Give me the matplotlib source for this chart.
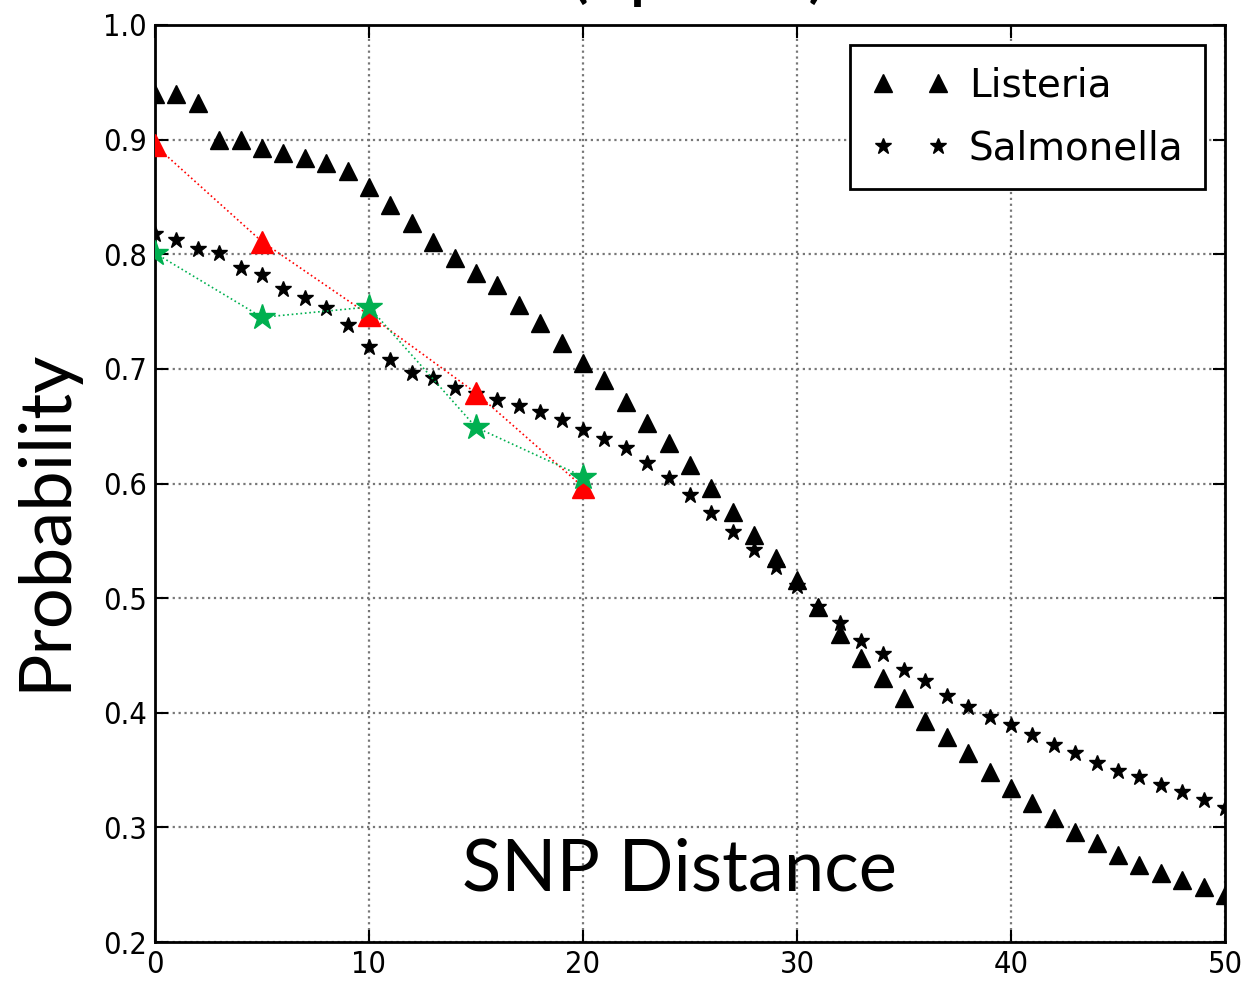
import numpy as np
import matplotlib
matplotlib.use("Agg")
import matplotlib.pyplot as plt

# ---- data ----
snp = np.arange(0, 51)

listeria = [0.940, 0.940, 0.932, 0.900, 0.900, 0.893, 0.888, 0.884, 0.880, 0.873,
            0.859, 0.843, 0.827, 0.811, 0.797, 0.784, 0.773, 0.756, 0.740, 0.723,
            0.705, 0.690, 0.671, 0.653, 0.635, 0.616, 0.596, 0.575, 0.555, 0.535,
            0.516, 0.492, 0.469, 0.448, 0.430, 0.413, 0.393, 0.379, 0.365, 0.348,
            0.334, 0.321, 0.308, 0.296, 0.286, 0.276, 0.267, 0.260, 0.254, 0.248,
            0.241]

salmonella = [0.818, 0.812, 0.805, 0.801, 0.788, 0.782, 0.770, 0.762, 0.753, 0.738,
              0.719, 0.708, 0.696, 0.692, 0.683, 0.678, 0.673, 0.668, 0.662, 0.655,
              0.647, 0.639, 0.631, 0.618, 0.605, 0.590, 0.574, 0.558, 0.542, 0.527,
              0.511, 0.492, 0.478, 0.463, 0.451, 0.437, 0.428, 0.415, 0.405, 0.396,
              0.389, 0.381, 0.372, 0.365, 0.356, 0.349, 0.344, 0.337, 0.331, 0.324,
              0.317]

# overlaid observed points (every 5 SNPs)
obs_x = [0, 5, 10, 15, 20]
obs_listeria = [0.895, 0.811, 0.747, 0.679, 0.597]
obs_salmonella = [0.801, 0.745, 0.754, 0.649, 0.606]

XTICKS = [0, 10, 20, 30, 40, 50]
YTICKS = [0.2, 0.3, 0.4, 0.5, 0.6, 0.7, 0.8, 0.9, 1.0]

RED = "#ff0000"
GREEN = "#00b050"
BIG_FONT = ["Lato", "DejaVu Sans"]

fig = plt.figure(figsize=(12.45, 9.86), dpi=100)
ax = fig.add_axes([155 / 1245, 1 - 942 / 986, 1070 / 1245, 917 / 986])

ax.plot(snp, listeria, ls="none", marker="^", ms=13, color="black", label="Listeria")
ax.plot(snp, salmonella, ls="none", marker="*", ms=12, color="black", label="Salmonella")

ax.plot(obs_x, obs_listeria, ls=":", lw=1.2, color=RED, marker="^", ms=16,
        zorder=4)
ax.plot(obs_x, obs_salmonella, ls=":", lw=1.2, color=GREEN, marker="*", ms=19,
        zorder=5)

ax.set_xlim(0, 50)
ax.set_ylim(0.2, 1.0)
ax.set_xticks(XTICKS)
ax.set_yticks(YTICKS)
ax.set_xticklabels([str(t) for t in XTICKS])
ax.set_yticklabels([f"{t:.1f}" for t in YTICKS])
ax.grid(True, ls=":", lw=1.6, color="#777777")
ax.tick_params(direction="in", length=9, width=1.5, top=True, right=True,
               labelsize=22, pad=6)
for lab in ax.get_xticklabels() + ax.get_yticklabels():
    lab.set_fontstretch("condensed")
for sp in ax.spines.values():
    sp.set_linewidth(2)

leg = ax.legend(loc="upper right", bbox_to_anchor=(0.9813, 0.978),
                borderaxespad=0, numpoints=2, fancybox=False, framealpha=1,
                fontsize=28, handlelength=2.0, handletextpad=0.5,
                borderpad=0.55, labelspacing=0.65)
leg.get_frame().set_edgecolor("black")
leg.get_frame().set_linewidth(2)

ax.text(0.49, 0.0785, "SNP Distance", transform=ax.transAxes,
        ha="center", va="center", fontsize=52, family=BIG_FONT)
fig.text(0.036, 0.473, "Probability", rotation=90, ha="center", va="center",
         fontsize=52, family=BIG_FONT)
# title is cut off by the top edge in the source image, only descenders show
fig.text(0.561, 1.006, "(Spatial)", ha="center", va="baseline",
         fontsize=54, family=BIG_FONT)

fig.savefig("out.png", dpi=100)
